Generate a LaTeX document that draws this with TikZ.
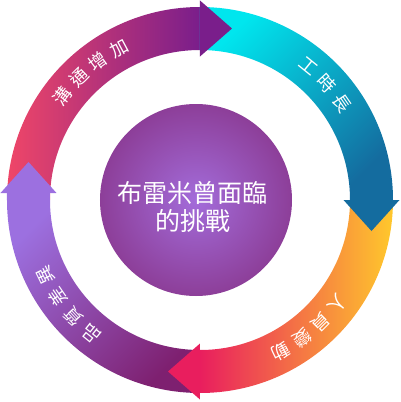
\documentclass[tikz,border=0pt]{standalone}
\usepackage{fontspec}
\newfontfamily\cjk{Noto Sans CJK TC}
\usetikzlibrary{calc}
\definecolor{Rose}{HTML}{EF4668}
\definecolor{Plum}{HTML}{7A1E8B}
\definecolor{Aqua}{HTML}{00E6EE}
\definecolor{Ocean}{HTML}{146C9F}
\definecolor{Sun}{HTML}{FFC82C}
\definecolor{Berry}{HTML}{E91E5E}
\definecolor{Grape}{HTML}{7E2070}
\definecolor{Lilac}{HTML}{9C70E0}
\definecolor{HubIn}{HTML}{A36CDA}
\definecolor{HubOut}{HTML}{7A1862}
\pgfdeclareradialshading{hub}{\pgfpoint{0bp}{0bp}}{color(0bp)=(HubIn); color(46bp)=(HubOut); color(50bp)=(HubOut)}
\tikzset{
  tag/.style={text=white,font=\cjk\fontsize{18}{21}\selectfont,inner sep=0pt},
  title/.style={text=white,font=\cjk\fontsize{25}{28}\selectfont,align=center,inner sep=0pt}
}

\begin{document}
\begin{tikzpicture}[x=1pt,y=1pt]
  \useasboundingbox (-200,-202) rectangle (201,200);
  % ring segments
  \shade[left color=Rose,right color=Plum]
    (180:193) arc[start angle=180,end angle=90,radius=193] -- (90:150)
    arc[start angle=90,end angle=180,radius=150] -- cycle;
  \shade[top color=Aqua,bottom color=Ocean,shading angle=45]
    (90:193) arc[start angle=90,end angle=0,radius=193] -- (0:150)
    arc[start angle=0,end angle=90,radius=150] -- cycle;
  \shade[left color=Berry,right color=Sun]
    (0:193) arc[start angle=0,end angle=-90,radius=193] -- (-90:150)
    arc[start angle=-90,end angle=0,radius=150] -- cycle;
  \shade[top color=Lilac,bottom color=Grape,shading angle=45]
    (-90:193) arc[start angle=-90,end angle=-180,radius=193] -- (-193,7) -- (-150,7)
    -- (180:150) arc[start angle=180,end angle=270,radius=150] -- cycle;
  % heads
  \fill[Plum] (0,143.5) -- (32,171.5) -- (0,199.5) -- cycle;
  \fill[Ocean] (143.5,0) -- (171.5,-31) -- (199.5,0) -- cycle;
  \fill[Berry] (0,-143.5) -- (-32,-171.5) -- (0,-199.5) -- cycle;
  \fill[Lilac] (-199.5,7) -- (-171.5,38) -- (-143.5,7) -- cycle;

  \node[circle,minimum size=192pt,inner sep=0pt,shading=hub] (hub) at (-4,0) {};
  \node[title] (goal) at (-7,-7) {布雷米曾面臨\\的挑戰};

  \foreach \ch [count=\i, evaluate=\i as \a using 143-8.3*(\i-1)] in {溝,通,增,加}
    \node[tag,rotate=\a-90] (a\i) at (\a:172) {\ch};
  \foreach \ch [count=\i, evaluate=\i as \a using 51-8.3*(\i-1)] in {工,時,長}
    \node[tag,rotate=\a-90] (b\i) at (\a:172) {\ch};
  \foreach \ch [count=\i, evaluate=\i as \a using -37-8.3*(\i-1)] in {人,員,變,動}
    \node[tag,rotate=\a-90] (c\i) at (\a:172) {\ch};
  \foreach \ch [count=\i, evaluate=\i as \a using 231-8.3*(\i-1)] in {品,質,差,異}
    \node[tag,rotate=\a-90] (d\i) at (\a:172) {\ch};
\end{tikzpicture}
\end{document}
